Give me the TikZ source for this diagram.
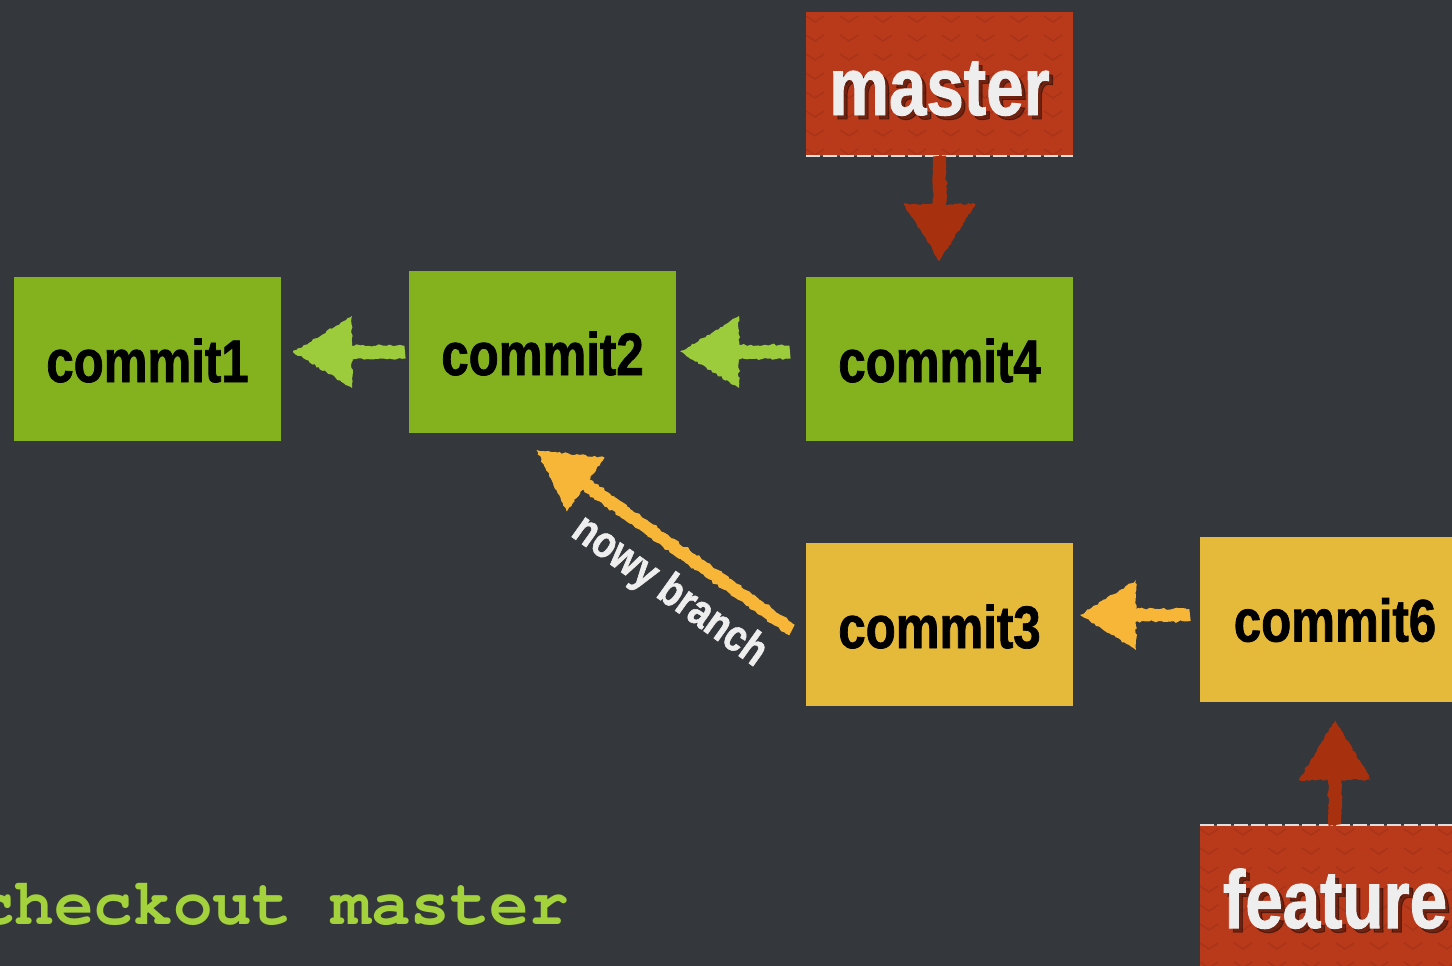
\documentclass[tikz,border=0pt]{standalone}
\usepackage[T1]{fontenc}
\usepackage{fontspec}
\setmainfont{Liberation Sans}
\newfontfamily\condfont[FakeStretch=0.82, BoldFeatures={FakeBold=1.2}]{Liberation Sans}
\newcommand\courierbold{\fontencoding{T1}\fontfamily{pcr}\fontseries{b}\selectfont}
\usetikzlibrary{calc,decorations.pathmorphing}
\definecolor{bgc}{HTML}{34373B}
\definecolor{boxgreen}{HTML}{84B11E}
\definecolor{arrgreen}{HTML}{9CCB3C}
\definecolor{boxyellow}{HTML}{E5B93A}
\definecolor{arryellow}{HTML}{F7B637}
\definecolor{boxred}{HTML}{B9391B}
\definecolor{arrred}{HTML}{A7300F}
\definecolor{codegreen}{HTML}{A3D23C}
\definecolor{labelwhite}{HTML}{EEEEEE}
\tikzset{
  box/.style={rectangle, inner sep=0pt, outer sep=0pt, minimum width=267pt},
  greenbox/.style={box, fill=boxgreen, minimum height=164pt},
  yellowbox/.style={box, fill=boxyellow, minimum height=163pt},
  redbox/.style={box, fill=boxred, minimum height=144pt},
  ctext/.style={font=\condfont\bfseries\fontsize{60}{60}\selectfont, text=black, inner sep=0pt},
  rtext/.style={font=\condfont\bfseries\fontsize{82}{82}\selectfont, text=labelwhite, inner sep=0pt},
  rshadow/.style={font=\condfont\bfseries\fontsize{82}{82}\selectfont, text=black, opacity=0.4, inner sep=0pt},
  chalk/.style={decorate, decoration={random steps, segment length=2.5pt, amplitude=1pt}},
  edgeline/.style={draw=white!75!gray, line width=1.5pt, dash pattern=on 14pt off 3pt},
  weave/.style={draw=boxred!75!black, line width=1.3pt, opacity=0.35},
}
\newcommand\chalkarrow[6]{%
  \coordinate (caFrom) at #1;
  \coordinate (caTip) at #2;
  \coordinate (caBase) at ($(caTip)!#4!(caFrom)$);
  \draw[chalk, draw=#3, line width=#6] (caFrom) -- ($(caBase)!6pt!(caTip)$);
  \fill[chalk, fill=#3] (caTip) -- ($(caBase)!#5!90:(caTip)$) -- ($(caBase)!#5!-90:(caTip)$) -- cycle;
}
\newcommand\redweave[1]{%
  \begin{scope}
    \clip (#1.south west) rectangle (#1.north east);
    \foreach \i in {0,...,8} {
      \foreach \j in {0,...,8} {
        \draw[weave] ($(#1.north west)+(\i*34,\j*19+4)$) -- ++(9,6) -- ++(9,-6);
      }
    }
  \end{scope}
}
\begin{document}
\begin{tikzpicture}[x=1pt,y=-1pt]
\useasboundingbox (0,0) rectangle (1452,966);
\clip (0,0) rectangle (1452,966);
\fill[bgc] (0,0) rectangle (1452,966);
\pgfmathsetseed{7}

% boxes
\node[greenbox] (c1) at (147.5,359) {};
\node[greenbox, minimum height=162pt] (c2) at (542.5,352) {};
\node[greenbox] (c4) at (939.5,359) {};
\node[redbox] (master) at (939.5,84) {};
\node[yellowbox] (c3) at (939.5,624) {};
\node[yellowbox, minimum width=270pt, minimum height=165pt] (c6) at (1335,619.5) {};
\node[redbox, minimum width=270pt] (feature) at (1335,897) {};

\redweave{master}
\redweave{feature}
\draw[edgeline] (master.south west) -- (master.south east);
\draw[edgeline] (feature.north west) -- (feature.north east);

% labels
\node[ctext, anchor=base] (c1t) at ($(c1.center)+(0,23)$) {commit1};
\node[ctext, anchor=base] (c2t) at ($(c2.center)+(0,23)$) {commit2};
\node[ctext, anchor=base] (c4t) at ($(c4.center)+(0,23)$) {commit4};
\node[ctext, anchor=base] (c3t) at ($(c3.center)+(0,24)$) {commit3};
\node[ctext, anchor=base] (c6t) at ($(c6.center)+(0,22)$) {commit6};
\node[rshadow, anchor=base] (mastersh) at ($(master.center)+(4,35)$) {master};
\node[rtext, anchor=base] (mastert) at ($(master.center)+(0,31)$) {master};
\node[rshadow, anchor=base] (featuresh) at ($(feature.center)+(4,35)$) {feature};
\node[rtext, anchor=base] (featuret) at ($(feature.center)+(0,31)$) {feature};

% arrows
\chalkarrow{($(c2.west)+(-4,0)$)}{($(c1.east |- c2.center)+(12,0)$)}{arrgreen}{59pt}{36pt}{13pt}
\chalkarrow{($(c4.west |- c2.center)+(-16,0)$)}{($(c2.east)+(4,0)$)}{arrgreen}{59pt}{36pt}{13pt}
\chalkarrow{($(c6.west)+(-10,-4.5)$)}{($(c3.east |- c6.west)+(7,-4.5)$)}{arryellow}{56pt}{35pt}{12pt}
\chalkarrow{($(c3.west)+(-14,6)$)}{($(c2.south)+(-6,17)$)}{arryellow}{60pt}{33pt}{12pt}
\chalkarrow{(master.south)}{($(c4.north)+(0,-16)$)}{arrred}{57pt}{36pt}{13pt}
\chalkarrow{(feature.north)}{($(c6.south)+(0,18)$)}{arrred}{60pt}{36pt}{13pt}

\node[font=\condfont\bfseries\fontsize{45}{45}\selectfont, text=labelwhite, rotate=-35.5, inner sep=0pt] (nb) at (669,592) {nowy branch};

% code line
\node[font=\courierbold\fontsize{66}{66}\selectfont, text=codegreen, anchor=base west, inner sep=0pt] (code) at (-25,924) {checkout master};
\end{tikzpicture}
\end{document}
